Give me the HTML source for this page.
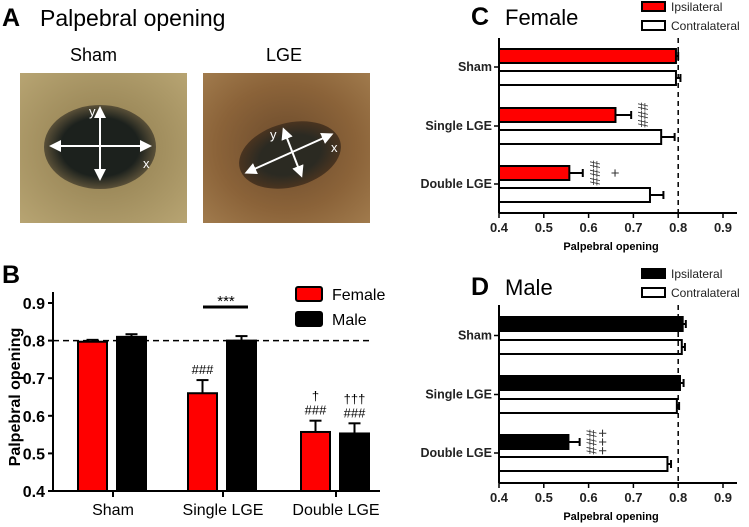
<!DOCTYPE html>
<html><head><meta charset="utf-8"><style>
body{margin:0;background:#fff}
svg{display:block;font-family:"Liberation Sans",Arial,sans-serif}
</style></head><body>
<svg id="fig" width="749" height="527" viewBox="0 0 749 527">
<defs>
<radialGradient id="fur1" cx="0.5" cy="0.5" r="0.7"><stop offset="0" stop-color="#8d7a4c"/><stop offset="1" stop-color="#b7a472"/></radialGradient>
<radialGradient id="fur2" cx="0.5" cy="0.5" r="0.7"><stop offset="0" stop-color="#6a4a2c"/><stop offset="0.6" stop-color="#8b6339"/><stop offset="1" stop-color="#a07a4c"/></radialGradient>
<radialGradient id="eye1" cx="0.5" cy="0.5" r="0.5"><stop offset="0.7" stop-color="#1c211d"/><stop offset="1" stop-color="#5a5038"/></radialGradient>
<radialGradient id="eye2" cx="0.5" cy="0.5" r="0.5"><stop offset="0.6" stop-color="#2b2a22"/><stop offset="1" stop-color="#4a3420"/></radialGradient>
<marker id="ah" markerWidth="6" markerHeight="6" refX="3" refY="3" orient="auto-start-reverse"><path d="M0,0L6,3L0,6z" fill="#fff"/></marker>
</defs>
<g>
<text x="2" y="26" font-size="25" font-weight="bold">A</text>
<text x="40" y="26" font-size="23">Palpebral opening</text>
<text x="70" y="61" font-size="18">Sham</text>
<text x="266" y="61" font-size="18">LGE</text>
<g>
<rect x="20" y="73" width="167" height="150" fill="url(#fur1)"/>
<ellipse cx="100" cy="147" rx="56" ry="42" fill="url(#eye1)"/>
<line x1="55" y1="146" x2="146" y2="146" stroke="#fff" stroke-width="2" marker-start="url(#ah)" marker-end="url(#ah)"/>
<line x1="100" y1="112" x2="100" y2="175" stroke="#fff" stroke-width="2" marker-start="url(#ah)" marker-end="url(#ah)"/>
<text x="89" y="116" font-size="13" fill="#fff">y</text><text x="143" y="168" font-size="13" fill="#fff">x</text>
</g>
<g>
<rect x="203" y="73" width="167" height="150" fill="url(#fur2)"/>
<ellipse cx="290" cy="155" rx="52" ry="32" transform="rotate(-15 290 155)" fill="url(#eye2)"/>
<line x1="250" y1="171" x2="328" y2="136" stroke="#fff" stroke-width="2" marker-start="url(#ah)" marker-end="url(#ah)"/>
<line x1="285" y1="133" x2="300" y2="172" stroke="#fff" stroke-width="2" marker-start="url(#ah)" marker-end="url(#ah)"/>
<text x="270" y="139" font-size="13" fill="#fff">y</text><text x="331" y="152" font-size="13" fill="#fff">x</text>
</g>
</g>
<g id="pb"></g>
<g id="pc"></g>
<g id="pd"></g>
</svg>
<script>
const categories=["Sham","Single LGE","Double LGE"];
const femaleMeans=[0.797,0.66,0.557];
const femaleErr=[0.005,0.035,0.03];
const maleMeans=[0.81,0.80,0.553];
const maleErr=[0.007,0.012,0.027];
const cIpsi=[0.795,0.66,0.557];
const cIpsiErr=[0.005,0.035,0.03];
const cContra=[0.795,0.762,0.737];
const cContraErr=[0.01,0.03,0.03];
const dIpsi=[0.81,0.804,0.555];
const dIpsiErr=[0.007,0.008,0.025];
const dContra=[0.808,0.797,0.776];
const dContraErr=[0.007,0.005,0.008];
const ticks=[0.4,0.5,0.6,0.7,0.8,0.9];

const NS="http://www.w3.org/2000/svg";
function mk(p,t,a,txt){const e=document.createElementNS(NS,t);for(const k in a)e.setAttribute(k,a[k]);if(txt!=null)e.textContent=txt;p.appendChild(e);return e;}

// Panel B
(function(){
const g=document.getElementById('pb');
const y=v=>491-(v-0.4)/0.5*188;
const cx=[113,223,336];
mk(g,'text',{x:2,y:283,'font-size':25,'font-weight':'bold'},'B');
const yt=mk(g,'text',{x:20,y:397,'font-size':16,'font-weight':'bold',transform:'rotate(-90 20 397)','text-anchor':'middle'},'Palpebral opening');

mk(g,'line',{x1:53,y1:y(0.8),x2:372,y2:y(0.8),stroke:'#000','stroke-width':1.5,'stroke-dasharray':'6,4'});
ticks.forEach(t=>{mk(g,'line',{x1:48,y1:y(t),x2:53,y2:y(t),stroke:'#000','stroke-width':2});
const l=mk(g,'text',{x:45,y:y(t)+6,'font-size':16,'font-weight':'bold','text-anchor':'end'},t.toFixed(1));
});
categories.forEach((c,i)=>{
[[femaleMeans,femaleErr,'#f00',-35],[maleMeans,maleErr,'#000',4]].forEach(([m,e,col,off],s)=>{
const x0=cx[i]+off,w=29;
mk(g,'line',{x1:x0+w/2,y1:y(m[i]),x2:x0+w/2,y2:y(m[i]+e[i]),stroke:'#000','stroke-width':2});
mk(g,'line',{x1:x0+w/2-6,y1:y(m[i]+e[i]),x2:x0+w/2+6,y2:y(m[i]+e[i]),stroke:'#000','stroke-width':2});
const b=mk(g,'rect',{x:x0,y:y(m[i]),width:w,height:491-y(m[i]),fill:col,stroke:'#000','stroke-width':2});
});
mk(g,'line',{x1:cx[i],y1:491,x2:cx[i],y2:497,stroke:'#000','stroke-width':2});
const l=mk(g,'text',{x:cx[i],y:515,'font-size':16,'text-anchor':'middle'},c);
});
mk(g,'line',{x1:53,y1:292,x2:53,y2:491,stroke:'#000','stroke-width':2});
mk(g,'line',{x1:53,y1:491,x2:380,y2:491,stroke:'#000','stroke-width':2});
mk(g,'line',{x1:203,y1:307,x2:248,y2:307,stroke:'#000','stroke-width':3});
mk(g,'text',{x:226,y:306,'font-size':15,'text-anchor':'middle'},'***');
const ann=(x,v,lines)=>lines.forEach((t,k)=>mk(g,'text',{x:x,y:y(v)-6-(lines.length-1-k)*14,'font-size':13,'text-anchor':'middle'},t));
ann(cx[1]-20.5,femaleMeans[1]+femaleErr[1],['###']);
ann(cx[2]-20.5,femaleMeans[2]+femaleErr[2],['†','###']);
ann(cx[2]+18.5,maleMeans[2]+maleErr[2],['†††','###']);
[['#f00','Female',297],['#000','Male',322]].forEach(([c,t,yy])=>{
const r=mk(g,'rect',{x:296,y:yy-10,width:26,height:14,fill:c,stroke:'#000','stroke-width':2,rx:2});

mk(g,'text',{x:332,y:yy+3,'font-size':16},t);});
})();

function hpanel(id,top,bottom,label,title,ipsi,ipsiE,contra,contraE,ipCol,bands,anns){
const g=document.getElementById(id);
const X=v=>499+(v-0.4)/0.5*224;
const ty=top-(label=='C'?13:10);
mk(g,'text',{x:471,y:ty,'font-size':25,'font-weight':'bold'},label);
mk(g,'text',{x:505,y:ty,'font-size':22},title);
[[ipCol,'Ipsilateral',top-36],['#fff','Contralateral',top-17]].forEach(([c,t,yy])=>{
const r=mk(g,'rect',{x:642,y:yy,width:23,height:9,fill:c,stroke:'#000','stroke-width':2});

mk(g,'text',{x:671,y:yy+9,'font-size':12,fill:'#222'},t);});
categories.forEach((c,i)=>{
const [y1,y2]=bands[i];
[[ipsi,ipsiE,ipCol,y1],[contra,contraE,'#fff',y2]].forEach(([m,e,col,yy],s)=>{
mk(g,'line',{x1:X(m[i]),y1:yy+7,x2:X(m[i]+e[i]),y2:yy+7,stroke:'#000','stroke-width':2});
mk(g,'line',{x1:X(m[i]+e[i]),y1:yy+3,x2:X(m[i]+e[i]),y2:yy+11,stroke:'#000','stroke-width':2});
const b=mk(g,'rect',{x:499,y:yy,width:X(m[i])-499,height:14,fill:col,stroke:'#000','stroke-width':2});
});
const cy=(y1+y2+14)/2;
mk(g,'line',{x1:494,y1:cy,x2:499,y2:cy,stroke:'#000','stroke-width':1.5});
const l=mk(g,'text',{x:492,y:cy+4,'font-size':12.5,'font-weight':'bold','text-anchor':'end',fill:'#222'},c);

(anns[i]||[]).forEach((col,k)=>{
const ax=X(ipsi[i]+ipsiE[i])+12+k*(col=='+'?20:11), ay=y1+7;
mk(g,'text',{x:ax,y:ay+5,'font-size':15,fill:'#333','text-anchor':'middle',transform:'rotate(90 '+ax+' '+ay+')'},col);});
});
mk(g,'line',{x1:X(0.8),y1:top,x2:X(0.8),y2:bottom,stroke:'#000','stroke-width':1.5,'stroke-dasharray':'5,4'});
mk(g,'line',{x1:499,y1:top,x2:499,y2:bottom,stroke:'#000','stroke-width':2});
mk(g,'line',{x1:499,y1:bottom,x2:737,y2:bottom,stroke:'#000','stroke-width':2});
ticks.forEach(t=>{mk(g,'line',{x1:X(t),y1:bottom,x2:X(t),y2:bottom+5,stroke:'#000','stroke-width':1.5});
const l=mk(g,'text',{x:X(t),y:bottom+19,'font-size':13,'font-weight':'bold','text-anchor':'middle',fill:'#222'},t.toFixed(1));
});
const xt=mk(g,'text',{x:X(0.65),y:bottom+37,'font-size':11,'font-weight':'bold','text-anchor':'middle'},'Palpebral opening');

}
hpanel('pc',38,213,'C','Female',cIpsi,cIpsiErr,cContra,cContraErr,'#f00',[[49,71],[108,130],[166,188]],[null,['###'],['###','+']]);
hpanel('pd',305,483,'D','Male',dIpsi,dIpsiErr,dContra,dContraErr,'#000',[[317,340],[376,399],[435,457]],[null,null,['###','+++']]);
</script>
</body></html>
